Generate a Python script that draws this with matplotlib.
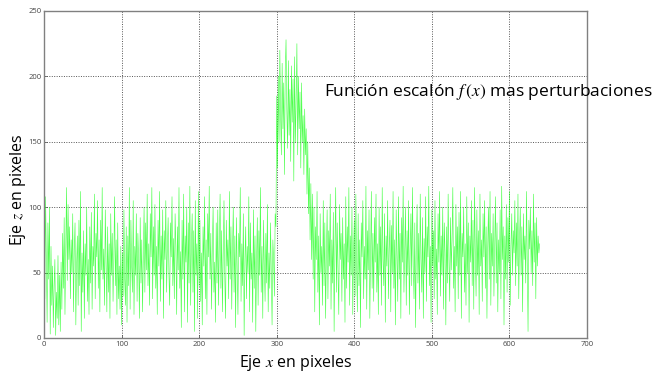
import numpy as np
import matplotlib
matplotlib.use("Agg")
import matplotlib.pyplot as plt

# Señal: ruido de base, escalón y ruido otra vez
left_noise = [
    95, 30, 108, 62, 12, 88, 45, 100, 3, 70, 25, 55, 8, 40, 60, 2, 35, 15, 63, 10,
    48, 5, 58, 22, 80, 38, 92, 18, 70, 115, 44, 102, 60, 85, 30, 75, 50, 95, 20, 68,
    88, 10, 55, 78, 25, 90, 40, 112, 5, 65, 35, 82, 15, 72, 48, 100, 28, 60, 18, 85,
    42, 96, 22, 70, 55, 110, 30, 80, 62, 105, 38, 75, 20, 90, 52, 115, 45, 68, 25, 98,
    58, 20, 85, 35, 72, 15, 95, 48, 80, 28, 62, 108, 40, 75, 18, 88, 30, 55, 22, 70,
    10, 65, 32, 98, 45, 25, 85, 12, 78, 40, 115, 22, 90, 55, 35, 105, 18, 70, 48, 95,
    28, 80, 60, 15, 92, 42, 75, 20, 58, 100, 35, 88, 52, 110, 40, 72, 25, 95, 62, 115,
    30, 85, 48, 102, 38, 70, 18, 90, 55, 112, 28, 78, 45, 98, 15, 82, 60, 105, 35, 68,
    92, 50, 25, 88, 62, 108, 40, 76, 30, 95, 70, 18, 85, 52, 115, 38, 66, 8, 90, 45,
    110, 20, 78, 58, 100, 12, 88, 42, 116, 25, 70, 95, 35, 82, 5, 105, 48, 72, 15, 112,
    40, 90, 28, 65, 10, 85, 55, 108, 30, 75, 18, 95, 62, 116, 45, 80, 22, 70, 100, 35,
    58, 12, 88, 42, 98, 25, 72, 110, 38, 82, 20, 65, 105, 48, 15, 90, 55, 75, 30, 112,
    45, 85, 22, 68, 100, 35, 78, 8, 92, 55, 18, 80, 62, 115, 28, 72, 40, 95, 2, 60,
    85, 30, 70, 50, 108, 20, 88, 45, 65, 12, 98, 38, 78, 5, 60, 92, 25, 82, 48, 115,
    35, 70, 15, 90, 55, 28, 80, 42, 102, 20, 65, 38, 88, 50, 10, 75, 60, 32, 95, 85,
]
step_values = [
    185, 130, 200, 150, 220, 170, 140, 210, 160, 195, 125, 205, 228, 175, 145, 212,
    155, 190, 135, 208, 165, 198, 120, 215, 150, 180, 225, 140, 200, 160, 188, 130,
    195, 150, 170,
]
transition = [125, 175, 140, 160, 110, 150, 95, 130, 75, 118, 60, 110]
right_noise = [
    45, 100, 20, 85, 60, 112, 35, 78, 10, 95, 50, 70, 25, 105, 40, 88, 15, 65, 98, 30,
    82, 55, 110, 22, 75, 42, 96, 5, 68, 115, 35, 88, 50, 18, 102, 60, 80, 28, 92, 45,
    72, 12, 108, 38, 85, 58, 115, 25, 78, 48, 100, 18, 66, 90, 32, 110, 55, 20, 95, 40,
    75, 8, 88, 62, 105, 30, 70, 45, 116, 22, 82, 52, 98, 15, 65, 112, 38, 80, 28, 92,
    58, 110, 35, 72, 18, 100, 48, 85, 25, 115, 60, 40, 95, 12, 78, 55, 105, 30, 68, 90,
    20, 86, 50, 112, 38, 75, 10, 98, 62, 28, 108, 45, 80, 15, 92, 58, 116, 35, 70, 100,
    25, 82, 48, 105, 18, 66, 95, 40, 115, 55, 30, 88, 8, 72, 102, 42, 80, 22, 110, 60,
    35, 92, 15, 76, 50, 108, 28, 85, 62, 116, 40, 70, 12, 98, 55, 82, 30, 105, 45, 68,
    18, 95, 58, 112, 32, 78, 48, 100, 22, 88, 65, 10, 85, 42, 110, 60, 28, 92, 52, 75,
    115, 38, 70, 20, 102, 55, 85, 30, 96, 48, 112, 15, 80, 62, 100, 35, 72, 25, 108, 50,
    88, 12, 78, 58, 105, 40, 90, 22, 115, 65, 32, 98, 48, 82, 18, 110, 55, 75, 28, 95,
    62, 105, 38, 85, 15, 70, 100, 45, 112, 25, 80, 55, 95, 32, 68, 108, 42, 88, 20, 75,
    50, 98, 30, 116, 60, 85, 10, 78, 45, 102, 35, 92, 58, 112, 25, 70, 95, 48, 82, 65,
    105, 40, 88, 55, 110, 30, 75, 100, 48, 85, 20, 95, 60, 78, 42, 112, 55, 5, 90, 68,
    100, 50, 82, 40, 110, 58, 88, 30, 92, 55, 78, 65, 72,
]

z = np.array(left_noise + step_values + transition + right_noise)
x = np.arange(len(z))

xticks = [0, 100, 200, 300, 400, 500, 600, 700]
yticks = [0, 50, 100, 150, 200, 250]

plt.rcParams['font.family'] = ['Open Sans', 'DejaVu Sans']
plt.rcParams['mathtext.fontset'] = 'stix'

fig = plt.figure(figsize=(6.58, 3.74), dpi=100)
ax = fig.add_axes([0.0669, 0.0963, 0.8252, 0.8743])

ax.plot(x, z, color='#22ff22', linewidth=0.45, alpha=0.8)

ax.set_xlim(0, 700)
ax.set_ylim(0, 250)
ax.set_xticks(xticks)
ax.set_yticks(yticks)
ax.tick_params(direction='in', length=2, width=0.5, labelsize=5.5,
               colors='#444444', pad=2)
ax.grid(True, linestyle=(0, (1, 1.5)), color='#555555', linewidth=0.7)
for s in ax.spines.values():
    s.set_color('#808080')
    s.set_linewidth(1.0)

fig.text(0.450, 0.019, 'Eje $x$ en pixeles', ha='center', va='baseline',
         fontsize=11.5)
fig.text(0.028, 0.492, 'Eje $z$ en pixeles', ha='center', va='center',
         rotation=90, fontsize=11.5)
fig.text(0.493, 0.743, 'Función escalón $f\\,(x)$ mas perturbaciones',
         ha='left', va='baseline', fontsize=12.5)

fig.savefig('out.png', dpi=100)
